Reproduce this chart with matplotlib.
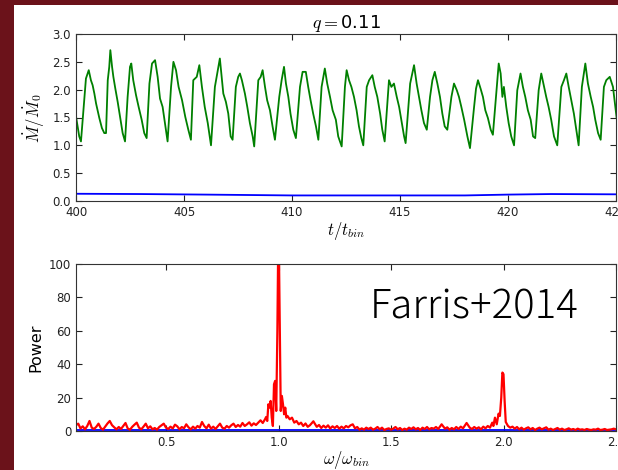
import matplotlib
matplotlib.use("Agg")
import matplotlib.pyplot as plt
from matplotlib.patches import Rectangle

plt.rcParams['mathtext.fontset'] = 'cm'
plt.rcParams['font.family'] = ['DejaVu Sans']

# accretion rate
t_vals = [400.00, 400.15, 400.23, 400.39, 400.46, 400.59, 400.69, 400.77, 400.85, 400.93,
          401.08, 401.20, 401.31, 401.39, 401.47, 401.54, 401.59, 401.67, 401.73, 401.82,
          401.93, 402.04, 402.16, 402.27, 402.39, 402.50, 402.56, 402.65, 402.78, 402.90,
          403.04, 403.16, 403.27, 403.40, 403.52, 403.66, 403.78, 403.89, 404.01, 404.14,
          404.24, 404.40, 404.51, 404.63, 404.75, 404.91, 405.06, 405.20, 405.32, 405.43,
          405.59, 405.71, 405.83, 405.96, 406.10, 406.25, 406.43, 406.54, 406.66, 406.76,
          406.82, 406.94, 407.05, 407.16, 407.25, 407.40, 407.51, 407.59, 407.68, 407.82,
          407.93, 408.05, 408.18, 408.25, 408.44, 408.55, 408.64, 408.75, 408.85, 408.98,
          409.10, 409.21, 409.41, 409.52, 409.63, 409.72, 409.83, 409.93, 410.06, 410.18,
          410.37, 410.49, 410.64, 410.75, 410.86, 410.98, 411.11, 411.22, 411.37, 411.52,
          411.63, 411.76, 411.88, 412.03, 412.14, 412.30, 412.45, 412.53, 412.64, 412.75,
          412.87, 412.99, 413.10, 413.21, 413.30, 413.46, 413.57, 413.72, 413.83, 413.95,
          414.08, 414.18, 414.29, 414.49, 414.60, 414.72, 414.85, 414.96, 415.06, 415.19,
          415.26, 415.47, 415.57, 415.65, 415.77, 415.88, 415.99, 416.11, 416.24, 416.39,
          416.50, 416.61, 416.73, 416.85, 416.96, 417.07, 417.19, 417.38, 417.50, 417.63,
          417.73, 417.84, 417.97, 418.12, 418.24, 418.43, 418.52, 418.61, 418.73, 418.84,
          418.95, 419.07, 419.20, 419.30, 419.38, 419.46, 419.57, 419.66, 419.74, 419.81,
          419.92, 420.03, 420.15, 420.28, 420.43, 420.58, 420.69, 420.80, 420.92, 421.05,
          421.16, 421.26, 421.42, 421.54, 421.67, 421.77, 421.88, 422.00, 422.13, 422.28,
          422.47, 422.59, 422.70, 422.81, 422.93, 423.05, 423.16, 423.27, 423.42, 423.58,
          423.70, 423.83, 423.94, 424.04, 424.17, 424.29, 424.44, 424.55, 424.71, 424.86,
          424.97, 425.03]
mdot_green = [1.52, 1.16, 1.07, 1.87, 2.20, 2.35, 2.17, 2.08, 1.93, 1.75,
              1.49, 1.31, 1.22, 1.22, 2.17, 2.41, 2.71, 2.41, 2.23, 2.02,
              1.78, 1.51, 1.22, 1.07, 1.87, 2.41, 2.47, 2.17, 1.90, 1.69,
              1.46, 1.22, 1.13, 2.11, 2.47, 2.53, 2.23, 1.84, 1.69, 1.34,
              1.07, 2.05, 2.50, 2.35, 2.05, 1.81, 1.51, 1.28, 1.10, 2.17,
              2.23, 2.44, 2.05, 1.69, 1.40, 1.00, 2.05, 2.29, 2.56, 2.17,
              1.93, 1.78, 1.57, 1.16, 1.10, 2.05, 2.23, 2.29, 2.17, 1.93,
              1.69, 1.40, 1.16, 0.98, 2.17, 2.23, 2.35, 2.05, 1.81, 1.63,
              1.34, 1.10, 1.87, 2.17, 2.41, 2.11, 1.87, 1.57, 1.28, 1.13,
              2.05, 2.32, 2.32, 2.05, 1.81, 1.57, 1.34, 1.10, 2.05, 2.38,
              2.11, 1.87, 1.63, 1.46, 1.16, 0.98, 2.05, 2.35, 2.17, 2.05,
              1.87, 1.63, 1.34, 1.13, 1.00, 2.05, 2.17, 2.26, 2.05, 1.87,
              1.57, 1.28, 1.07, 2.17, 2.05, 2.11, 1.87, 1.69, 1.46, 1.16,
              1.04, 2.11, 2.29, 2.44, 2.11, 1.87, 1.63, 1.40, 1.28, 1.87,
              2.17, 2.32, 2.11, 1.87, 1.57, 1.34, 1.28, 1.87, 2.11, 1.99,
              1.87, 1.69, 1.46, 1.16, 0.95, 1.69, 2.02, 2.17, 2.02, 1.87,
              1.63, 1.49, 1.28, 1.19, 1.57, 1.93, 2.47, 2.29, 1.87, 2.05,
              1.69, 1.40, 1.16, 1.00, 1.99, 2.29, 2.05, 1.87, 1.63, 1.46,
              1.16, 1.13, 1.99, 2.29, 2.05, 1.87, 1.69, 1.46, 1.16, 1.00,
              2.05, 2.17, 2.29, 2.05, 1.81, 1.57, 1.28, 1.00, 2.05, 2.47,
              2.11, 1.87, 1.69, 1.46, 1.22, 1.10, 2.05, 2.17, 2.23, 2.05,
              1.69, 1.49]

t_blue = [400, 403, 406, 410, 414, 418, 420, 422, 425]
mdot_blue = [0.13, 0.125, 0.115, 0.10, 0.10, 0.10, 0.115, 0.125, 0.12]

# power spectrum
omega = [0.10, 0.11, 0.12, 0.13, 0.14, 0.15, 0.16, 0.17, 0.18, 0.19,
         0.20, 0.21, 0.22, 0.23, 0.24, 0.25, 0.26, 0.27, 0.28, 0.29,
         0.30, 0.31, 0.32, 0.33, 0.34, 0.35, 0.36, 0.37, 0.38, 0.39,
         0.40, 0.41, 0.42, 0.43, 0.44, 0.45, 0.46, 0.47, 0.48, 0.49,
         0.50, 0.51, 0.52, 0.53, 0.54, 0.55, 0.56, 0.57, 0.58, 0.59,
         0.60, 0.61, 0.62, 0.63, 0.64, 0.65, 0.66, 0.67, 0.68, 0.69,
         0.70, 0.71, 0.72, 0.73, 0.74, 0.75, 0.76, 0.77, 0.78, 0.79,
         0.80, 0.81, 0.82, 0.83, 0.84, 0.85, 0.86, 0.87, 0.88, 0.89,
         0.90, 0.91, 0.92, 0.93, 0.94, 0.945, 0.95, 0.955, 0.96, 0.965,
         0.97, 0.975, 0.98, 0.985, 0.99, 0.995, 1.0, 1.005, 1.01, 1.015,
         1.02, 1.025, 1.03, 1.035, 1.04, 1.05, 1.06, 1.07, 1.08, 1.09,
         1.10, 1.11, 1.12, 1.13, 1.14, 1.155, 1.17, 1.18, 1.19, 1.20,
         1.21, 1.22, 1.23, 1.24, 1.25, 1.26, 1.27, 1.28, 1.29, 1.30,
         1.31, 1.32, 1.33, 1.34, 1.35, 1.36, 1.37, 1.38, 1.39, 1.40,
         1.41, 1.42, 1.43, 1.44, 1.45, 1.46, 1.47, 1.48, 1.49, 1.50,
         1.51, 1.52, 1.53, 1.54, 1.55, 1.56, 1.57, 1.58, 1.59, 1.60,
         1.61, 1.62, 1.63, 1.64, 1.65, 1.66, 1.67, 1.68, 1.69, 1.70,
         1.71, 1.725, 1.74, 1.75, 1.76, 1.77, 1.78, 1.79, 1.80, 1.81,
         1.82, 1.836, 1.85, 1.86, 1.87, 1.88, 1.89, 1.90, 1.91, 1.92,
         1.93, 1.94, 1.95, 1.955, 1.962, 1.97, 1.978, 1.984, 1.99, 1.995,
         2.0, 2.005, 2.01, 2.02, 2.03, 2.04, 2.05, 2.06, 2.07, 2.08,
         2.09, 2.10, 2.11, 2.12, 2.13, 2.14, 2.15, 2.16, 2.17, 2.18,
         2.19, 2.20, 2.21, 2.22, 2.23, 2.24, 2.25, 2.26, 2.27, 2.28,
         2.29, 2.30, 2.31, 2.32, 2.33, 2.34, 2.35, 2.36, 2.37, 2.38,
         2.39, 2.40, 2.41, 2.42, 2.43, 2.44, 2.45, 2.46, 2.47, 2.48,
         2.49, 2.50]
power_red = [3.5, 4.4, 1.5, 2.8, 1.0, 3.0, 6.0, 2.0, 1.2, 2.5,
             4.4, 1.8, 0.8, 2.6, 4.5, 6.0, 3.5, 2.2, 1.0, 2.4,
             1.2, 3.0, 4.8, 1.5, 0.8, 2.5, 3.8, 5.0, 2.0, 1.0,
             2.6, 4.4, 1.6, 2.8, 1.0, 1.8, 0.8, 2.4, 3.4, 4.4,
             2.0, 1.2, 2.6, 1.5, 3.8, 2.8, 1.0, 2.4, 1.6, 4.0,
             2.2, 1.0, 2.6, 1.4, 3.0, 2.0, 5.4, 3.0, 1.6, 3.8,
             1.4, 2.6, 1.2, 2.8, 4.4, 2.0, 1.4, 3.0, 2.0, 3.4,
             4.4, 2.4, 3.6, 2.6, 4.8, 3.0, 4.0, 5.2, 3.2, 4.6,
             3.6, 5.0, 6.4, 4.8, 7.0, 8.4, 6.0, 16.0, 14.0, 18.0,
             8.0, 3.0, 28.0, 30.0, 12.0, 60.0, 130.0, 70.0, 12.0, 21.0,
             16.0, 10.0, 14.0, 8.0, 9.0, 7.0, 8.0, 5.0, 6.0, 4.0,
             5.0, 3.0, 4.5, 2.5, 3.5, 5.8, 2.5, 3.6, 1.8, 3.2,
             2.0, 3.4, 1.5, 2.8, 1.8, 3.0, 1.4, 2.6, 1.6, 3.0,
             2.2, 3.4, 4.0, 1.6, 2.4, 0.8, 1.6, 0.8, 2.0, 1.2,
             2.0, 0.8, 1.4, 2.4, 1.0, 2.0, 0.6, 1.2, 1.6, 0.8,
             1.4, 2.4, 1.0, 1.8, 0.6, 1.4, 0.8, 2.0, 1.2, 2.2,
             1.0, 1.8, 0.6, 2.0, 1.2, 2.4, 1.0, 1.8, 1.4, 2.4,
             1.2, 4.0, 1.4, 2.2, 0.8, 1.8, 1.0, 2.4, 1.2, 2.6,
             1.6, 4.8, 2.0, 1.2, 2.4, 1.4, 2.2, 1.0, 2.6, 1.6,
             3.0, 2.0, 5.0, 3.0, 8.0, 4.0, 10.4, 9.0, 20.0, 35.0,
             34.0, 18.0, 5.4, 3.0, 2.0, 2.6, 1.4, 2.4, 1.0, 2.0,
             0.8, 1.6, 2.2, 1.0, 1.8, 0.6, 1.4, 2.0, 1.0, 1.6,
             2.2, 0.8, 1.4, 0.6, 1.2, 1.8, 0.8, 1.4, 0.6, 1.0,
             1.6, 0.8, 1.2, 0.6, 1.4, 0.8, 1.0, 0.6, 1.2, 0.8,
             0.6, 1.0, 0.8, 1.4, 0.6, 0.8, 1.2, 0.6, 0.8, 1.0,
             1.4, 1.0]
omega_blue = [0.1, 2.5]
power_blue = [0.3, 0.3]

fig = plt.figure(figsize=(6.18, 4.70), dpi=100, facecolor='#6b121a')
# white slide panel behind the axes
fig.patches.append(Rectangle((14 / 618, 0), 1, (470 - 5) / 470, transform=fig.transFigure,
                             facecolor='white', edgecolor='none', zorder=-5))

ax1 = fig.add_axes([76 / 618, 269 / 470, 540 / 618, 167 / 470])
ax1.plot(t_vals, mdot_green, color='#008000', lw=1.3)
ax1.plot(t_blue, mdot_blue, color='#0000ff', lw=1.3)
ax1.set_xlim(400, 425)
ax1.set_ylim(0, 3)
ax1.set_xticks([400, 405, 410, 415, 420, 425])
ax1.set_yticks([0, 0.5, 1.0, 1.5, 2.0, 2.5, 3.0])
ax1.set_xlabel(r'$t/t_{bin}$', fontsize=12, labelpad=1)
ax1.set_ylabel(r'$\dot M/\dot M_0$', fontsize=12)
ax1.set_title(r'$q=$0.11', fontsize=13, pad=4)

ax2 = fig.add_axes([76 / 618, 39 / 470, 540 / 618, 167 / 470])
ax2.plot(omega_blue, power_blue, color='#0000ff', lw=1.3)
ax2.plot(omega, power_red, color='#ff0000', lw=1.6)
ax2.set_xlim(0.1, 2.5)
ax2.set_ylim(0, 100)
ax2.set_xticks([0.5, 1.0, 1.5, 2.0, 2.5])
ax2.set_yticks([0, 20, 40, 60, 80, 100])
ax2.set_xlabel(r'$\omega/\omega_{bin}$', fontsize=12, labelpad=0)
ax2.set_ylabel('Power', fontsize=11.5)
ax2.text(0.544, 0.74, 'Farris+2014', transform=ax2.transAxes, ha='left', va='center',
         fontsize=29, family=['Noto Sans CJK JP', 'DejaVu Sans'], fontweight='light')

for ax in (ax1, ax2):
    ax.set_zorder(1)
    ax.tick_params(direction='in', top=True, right=True, length=4, labelsize=8.5,
                   colors='#222222')
    for s in ax.spines.values():
        s.set_color('#333333')

fig.savefig('out.png', dpi=100, facecolor=fig.get_facecolor())
